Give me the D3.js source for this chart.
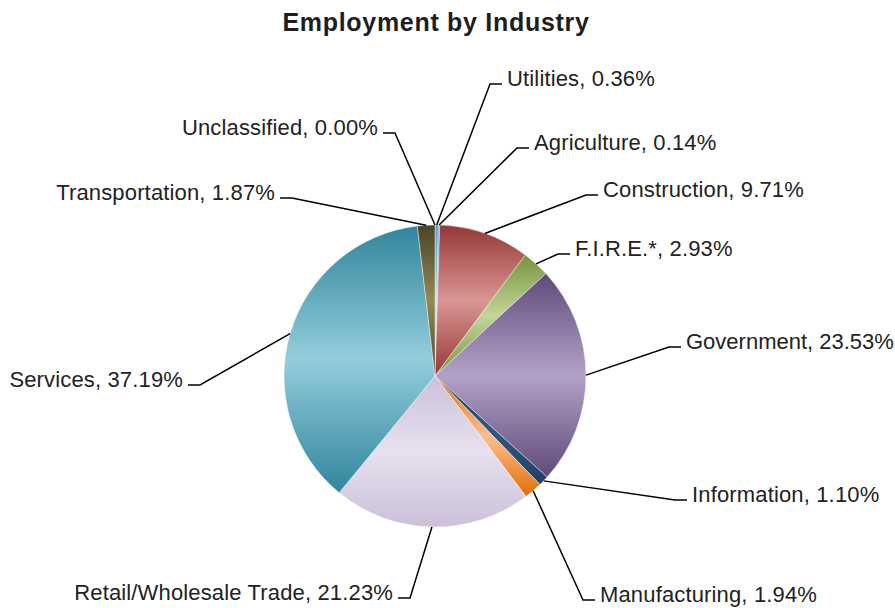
<!DOCTYPE html>
<html>
<head>
<meta charset="utf-8">
<script src="https://cdn.jsdelivr.net/npm/d3@7/dist/d3.min.js"></script>
<style>
  html, body { margin: 0; padding: 0; background: #fff; }
  svg { display: block; font-family: "Liberation Sans", Arial, sans-serif; }
</style>
</head>
<body>
<svg id="chart" width="895" height="608"></svg>
<script>
// Employment share by industry, in percent, clockwise from 12 o'clock
const industries = ["Utilities", "Agriculture", "Construction", "F.I.R.E.*", "Government",
  "Information", "Manufacturing", "Retail/Wholesale Trade", "Services", "Transportation", "Unclassified"];
const shares = [0.36, 0.14, 9.71, 2.93, 23.53, 1.10, 1.94, 21.23, 37.19, 1.87, 0.00];

// Slice gradient colours: edge (dark) and middle (light)
const darkColors  = ["#4f9fc0", "#4f81bd", "#953735", "#76923c", "#5f497a",
  "#1f3f66", "#e36c09", "#ccc0da", "#31859c", "#494429", "#7f7f7f"];
const lightColors = ["#a9d6e8", "#95b3d7", "#d99694", "#c3d69b", "#b3a2c7",
  "#2f5a86", "#fac08f", "#e6e1ee", "#93cddd", "#948a54", "#bfbfbf"];

// Label placement: elbow of each leader line and which side the text sits on
const labelElbows = [[490, 84], [517, 148], [586, 195], [558, 254], [669, 347],
  [675, 500], [583, 600], [410, 598], [200, 385], [292, 198], [395, 133]];
const labelSides = ["right", "right", "right", "right", "right",
  "right", "right", "left", "left", "left", "left"];

const W = 895;
const svg = d3.select("#chart");
const cx = 435, cy = 376, radius = 151;

svg.append("text")
  .attr("x", 436).attr("y", 31)
  .attr("text-anchor", "middle")
  .attr("font-size", 25).attr("font-weight", "bold")
  .attr("letter-spacing", 0.7)
  .attr("fill", "#1e1e1e")
  .text("Employment by Industry");

const defs = svg.append("defs");
industries.forEach((name, i) => {
  const g = defs.append("linearGradient")
    .attr("id", "grad" + i)
    .attr("x1", 0).attr("y1", 0).attr("x2", 0).attr("y2", 1);
  g.append("stop").attr("offset", "0%").attr("stop-color", darkColors[i]);
  g.append("stop").attr("offset", "50%").attr("stop-color", lightColors[i]);
  g.append("stop").attr("offset", "100%").attr("stop-color", darkColors[i]);
});

const rows = industries.map((name, i) => ({ name, value: shares[i], i }));
const pie = d3.pie().sort(null).value(d => d.value);
const arcs = pie(rows);
const arc = d3.arc().innerRadius(0).outerRadius(radius);
const edge = d3.arc().innerRadius(radius).outerRadius(radius);

const plot = svg.append("g").attr("transform", `translate(${cx},${cy})`);
plot.selectAll("path.slice")
  .data(arcs.filter(a => a.value > 0))
  .join("path")
  .attr("class", "slice")
  .attr("d", arc)
  .attr("fill", d => `url(#grad${d.data.i})`)
  .attr("stroke", "#ffffff")
  .attr("stroke-width", 0.6)
  .attr("stroke-opacity", 0.7);

// Leader lines and labels
const labels = svg.append("g");
arcs.forEach(a => {
  const i = a.data.i;
  const [ex, ey] = edge.centroid(a);
  const sx = cx + ex, sy = cy + ey;
  const [bx, by] = labelElbows[i];
  const dir = labelSides[i] === "right" ? 1 : -1;
  const hx = bx + dir * 12;
  labels.append("path")
    .attr("d", `M${sx},${sy}L${bx},${by}L${hx},${by}`)
    .attr("fill", "none")
    .attr("stroke", "#000")
    .attr("stroke-width", 1.5);
  const t = labels.append("text")
    .attr("x", hx + dir * 5)
    .attr("y", by + 2)
    .attr("text-anchor", dir > 0 ? "start" : "end")
    .attr("font-size", 22)
    .attr("letter-spacing", 0.15)
    .attr("fill", "#222")
    .text(`${a.data.name}, ${a.data.value.toFixed(2)}%`);
  // keep labels on the right inside the canvas
  const box = t.node().getBBox();
  if (box.x + box.width > W - 1) {
    t.attr("letter-spacing", 0);
    const b2 = t.node().getBBox();
    if (b2.x + b2.width > W - 1) t.attr("textLength", W - 1 - b2.x).attr("lengthAdjust", "spacingAndGlyphs");
  }
});
</script>
</body>
</html>
